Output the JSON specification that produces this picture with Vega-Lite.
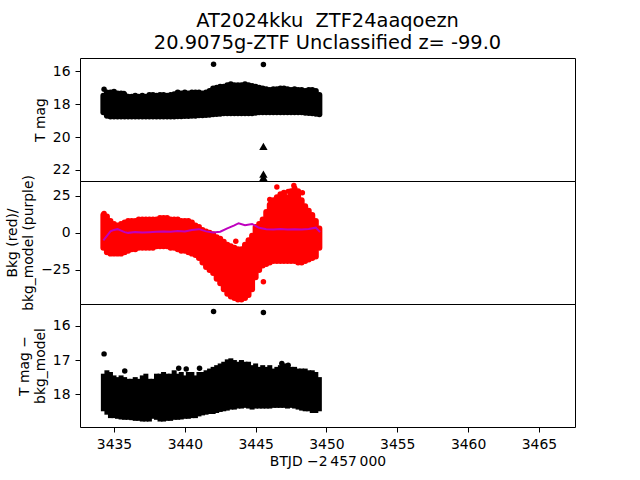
{
  "$schema": "https://vega.github.io/schema/vega-lite/v6.json",
  "padding": {"left": 5, "top": 10, "right": 5, "bottom": 5},
  "background": "white",
  "spacing": 0,
  "bounds": "flush",
  "config": {
    "font": "DejaVu Sans",
    "view": {"stroke": "black", "strokeWidth": 1},
    "axis": {"domain": false, "grid": false, "tickColor": "black", "tickSize": 5, "tickWidth": 1, "labelColor": "black", "labelFontSize": 13.9, "labelPadding": 5, "titleColor": "black", "titleFontSize": 13.9, "titleFontWeight": "normal"}
  },
  "datasets": {
    "lc": [
      {"t": 3434.25, "mag_top": 17.5, "mag_bot": 18.5, "bkg_top": 12, "bkg_bot": -10, "diff_top": 17.4, "diff_bot": 18.5},
      {"t": 3434.5, "mag_top": 17.3, "mag_bot": 18.7, "bkg_top": 11, "bkg_bot": -13, "diff_top": 17.3, "diff_bot": 18.6},
      {"t": 3434.75, "mag_top": 17.3, "mag_bot": 18.75, "bkg_top": 8, "bkg_bot": -14, "diff_top": 17.35, "diff_bot": 18.7},
      {"t": 3435.0, "mag_top": 17.25, "mag_bot": 18.75, "bkg_top": 6, "bkg_bot": -14, "diff_top": 17.45, "diff_bot": 18.7},
      {"t": 3435.25, "mag_top": 17.35, "mag_bot": 18.75, "bkg_top": 5, "bkg_bot": -14, "diff_top": 17.5, "diff_bot": 18.72},
      {"t": 3435.5, "mag_top": 17.35, "mag_bot": 18.75, "bkg_top": 6, "bkg_bot": -14, "diff_top": 17.45, "diff_bot": 18.74},
      {"t": 3435.75, "mag_top": 17.45, "mag_bot": 18.75, "bkg_top": 7, "bkg_bot": -13, "diff_top": 17.5, "diff_bot": 18.75},
      {"t": 3436.0, "mag_top": 17.55, "mag_bot": 18.75, "bkg_top": 8, "bkg_bot": -12, "diff_top": 17.55, "diff_bot": 18.75},
      {"t": 3436.25, "mag_top": 17.55, "mag_bot": 18.76, "bkg_top": 8, "bkg_bot": -11, "diff_top": 17.55, "diff_bot": 18.76},
      {"t": 3436.5, "mag_top": 17.5, "mag_bot": 18.76, "bkg_top": 8, "bkg_bot": -11, "diff_top": 17.5, "diff_bot": 18.78},
      {"t": 3436.75, "mag_top": 17.55, "mag_bot": 18.76, "bkg_top": 9, "bkg_bot": -10, "diff_top": 17.55, "diff_bot": 18.78},
      {"t": 3437.0, "mag_top": 17.5, "mag_bot": 18.76, "bkg_top": 9, "bkg_bot": -10, "diff_top": 17.45, "diff_bot": 18.8},
      {"t": 3437.25, "mag_top": 17.55, "mag_bot": 18.75, "bkg_top": 9, "bkg_bot": -10, "diff_top": 17.4, "diff_bot": 18.8},
      {"t": 3437.5, "mag_top": 17.45, "mag_bot": 18.75, "bkg_top": 9, "bkg_bot": -10, "diff_top": 17.55, "diff_bot": 18.8},
      {"t": 3437.75, "mag_top": 17.45, "mag_bot": 18.75, "bkg_top": 9, "bkg_bot": -10, "diff_top": 17.55, "diff_bot": 18.72},
      {"t": 3438.0, "mag_top": 17.5, "mag_bot": 18.76, "bkg_top": 9, "bkg_bot": -9, "diff_top": 17.4, "diff_bot": 18.75},
      {"t": 3438.25, "mag_top": 17.45, "mag_bot": 18.76, "bkg_top": 10, "bkg_bot": -9, "diff_top": 17.4, "diff_bot": 18.8},
      {"t": 3438.5, "mag_top": 17.45, "mag_bot": 18.76, "bkg_top": 10, "bkg_bot": -9, "diff_top": 17.35, "diff_bot": 18.8},
      {"t": 3438.75, "mag_top": 17.5, "mag_bot": 18.75, "bkg_top": 10, "bkg_bot": -9, "diff_top": 17.4, "diff_bot": 18.78},
      {"t": 3439.0, "mag_top": 17.45, "mag_bot": 18.75, "bkg_top": 9, "bkg_bot": -10, "diff_top": 17.4, "diff_bot": 18.78},
      {"t": 3439.25, "mag_top": 17.4, "mag_bot": 18.75, "bkg_top": 9, "bkg_bot": -10, "diff_top": 17.3, "diff_bot": 18.75},
      {"t": 3439.5, "mag_top": 17.3, "mag_bot": 18.74, "bkg_top": 9, "bkg_bot": -11, "diff_top": 17.4, "diff_bot": 18.75},
      {"t": 3439.75, "mag_top": 17.35, "mag_bot": 18.74, "bkg_top": 8, "bkg_bot": -12, "diff_top": 17.35, "diff_bot": 18.74},
      {"t": 3440.0, "mag_top": 17.3, "mag_bot": 18.72, "bkg_top": 8, "bkg_bot": -12, "diff_top": 17.45, "diff_bot": 18.72},
      {"t": 3440.25, "mag_top": 17.35, "mag_bot": 18.72, "bkg_top": 8, "bkg_bot": -13, "diff_top": 17.35, "diff_bot": 18.72},
      {"t": 3440.5, "mag_top": 17.3, "mag_bot": 18.7, "bkg_top": 7, "bkg_bot": -14, "diff_top": 17.35, "diff_bot": 18.7},
      {"t": 3440.75, "mag_top": 17.3, "mag_bot": 18.7, "bkg_top": 5, "bkg_bot": -15, "diff_top": 17.45, "diff_bot": 18.7},
      {"t": 3441.0, "mag_top": 17.3, "mag_bot": 18.68, "bkg_top": 4, "bkg_bot": -17, "diff_top": 17.35, "diff_bot": 18.65},
      {"t": 3441.25, "mag_top": 17.35, "mag_bot": 18.68, "bkg_top": 2, "bkg_bot": -20, "diff_top": 17.35, "diff_bot": 18.62},
      {"t": 3441.5, "mag_top": 17.3, "mag_bot": 18.66, "bkg_top": 1, "bkg_bot": -23, "diff_top": 17.3, "diff_bot": 18.6},
      {"t": 3441.75, "mag_top": 17.2, "mag_bot": 18.64, "bkg_top": 0, "bkg_bot": -25, "diff_top": 17.25, "diff_bot": 18.58},
      {"t": 3442.0, "mag_top": 17.05, "mag_bot": 18.62, "bkg_top": -1, "bkg_bot": -27, "diff_top": 17.2, "diff_bot": 18.58},
      {"t": 3442.25, "mag_top": 17.0, "mag_bot": 18.6, "bkg_top": -3, "bkg_bot": -31, "diff_top": 17.15, "diff_bot": 18.55},
      {"t": 3442.5, "mag_top": 16.95, "mag_bot": 18.58, "bkg_top": -4, "bkg_bot": -34, "diff_top": 17.1, "diff_bot": 18.52},
      {"t": 3442.75, "mag_top": 16.95, "mag_bot": 18.56, "bkg_top": -6, "bkg_bot": -38, "diff_top": 17.05, "diff_bot": 18.5},
      {"t": 3443.0, "mag_top": 16.85, "mag_bot": 18.56, "bkg_top": -8, "bkg_bot": -41, "diff_top": 16.98, "diff_bot": 18.48},
      {"t": 3443.25, "mag_top": 16.8, "mag_bot": 18.55, "bkg_top": -9, "bkg_bot": -43, "diff_top": 16.95, "diff_bot": 18.45},
      {"t": 3443.5, "mag_top": 16.85, "mag_bot": 18.55, "bkg_top": -10, "bkg_bot": -44, "diff_top": 17.0, "diff_bot": 18.45},
      {"t": 3443.75, "mag_top": 16.85, "mag_bot": 18.55, "bkg_top": -11, "bkg_bot": -45, "diff_top": 17.05, "diff_bot": 18.42},
      {"t": 3444.0, "mag_top": 16.85, "mag_bot": 18.55, "bkg_top": -11, "bkg_bot": -45, "diff_top": 17.0, "diff_bot": 18.42},
      {"t": 3444.25, "mag_top": 16.8, "mag_bot": 18.55, "bkg_top": -8, "bkg_bot": -44, "diff_top": 17.05, "diff_bot": 18.4},
      {"t": 3444.5, "mag_top": 16.85, "mag_bot": 18.55, "bkg_top": -5, "bkg_bot": -42, "diff_top": 17.05, "diff_bot": 18.42},
      {"t": 3444.75, "mag_top": 16.9, "mag_bot": 18.55, "bkg_top": -2, "bkg_bot": -38, "diff_top": 17.15, "diff_bot": 18.45},
      {"t": 3445.0, "mag_top": 16.95, "mag_bot": 18.52, "bkg_top": 4, "bkg_bot": -30, "diff_top": 17.1, "diff_bot": 18.42},
      {"t": 3445.25, "mag_top": 17.0, "mag_bot": 18.5, "bkg_top": 6, "bkg_bot": -25, "diff_top": 17.2, "diff_bot": 18.42},
      {"t": 3445.5, "mag_top": 17.05, "mag_bot": 18.5, "bkg_top": 9, "bkg_bot": -22, "diff_top": 17.15, "diff_bot": 18.42},
      {"t": 3445.75, "mag_top": 17.1, "mag_bot": 18.5, "bkg_top": 14, "bkg_bot": -21, "diff_top": 17.2, "diff_bot": 18.42},
      {"t": 3446.0, "mag_top": 17.15, "mag_bot": 18.5, "bkg_top": 19, "bkg_bot": -20, "diff_top": 17.15, "diff_bot": 18.42},
      {"t": 3446.25, "mag_top": 17.1, "mag_bot": 18.5, "bkg_top": 22, "bkg_bot": -19, "diff_top": 17.25, "diff_bot": 18.4},
      {"t": 3446.5, "mag_top": 17.1, "mag_bot": 18.5, "bkg_top": 24, "bkg_bot": -19, "diff_top": 17.2, "diff_bot": 18.4},
      {"t": 3446.75, "mag_top": 17.05, "mag_bot": 18.5, "bkg_top": 26, "bkg_bot": -19, "diff_top": 17.15, "diff_bot": 18.4},
      {"t": 3447.0, "mag_top": 17.05, "mag_bot": 18.5, "bkg_top": 27, "bkg_bot": -19, "diff_top": 17.1, "diff_bot": 18.4},
      {"t": 3447.25, "mag_top": 17.1, "mag_bot": 18.5, "bkg_top": 24, "bkg_bot": -19, "diff_top": 17.15, "diff_bot": 18.42},
      {"t": 3447.5, "mag_top": 17.15, "mag_bot": 18.5, "bkg_top": 28, "bkg_bot": -19, "diff_top": 17.2, "diff_bot": 18.4},
      {"t": 3447.75, "mag_top": 17.1, "mag_bot": 18.5, "bkg_top": 30, "bkg_bot": -19, "diff_top": 17.2, "diff_bot": 18.42},
      {"t": 3448.0, "mag_top": 17.15, "mag_bot": 18.5, "bkg_top": 28, "bkg_bot": -20, "diff_top": 17.25, "diff_bot": 18.45},
      {"t": 3448.25, "mag_top": 17.15, "mag_bot": 18.5, "bkg_top": 22, "bkg_bot": -20, "diff_top": 17.25, "diff_bot": 18.48},
      {"t": 3448.5, "mag_top": 17.2, "mag_bot": 18.52, "bkg_top": 18, "bkg_bot": -19, "diff_top": 17.25, "diff_bot": 18.5},
      {"t": 3448.75, "mag_top": 17.15, "mag_bot": 18.54, "bkg_top": 15, "bkg_bot": -18, "diff_top": 17.3, "diff_bot": 18.5},
      {"t": 3449.0, "mag_top": 17.15, "mag_bot": 18.56, "bkg_top": 12, "bkg_bot": -17, "diff_top": 17.3, "diff_bot": 18.55},
      {"t": 3449.25, "mag_top": 17.2, "mag_bot": 18.58, "bkg_top": 8, "bkg_bot": -16, "diff_top": 17.35, "diff_bot": 18.55},
      {"t": 3449.5, "mag_top": 17.45, "mag_bot": 18.62, "bkg_top": 3, "bkg_bot": -10, "diff_top": 17.5, "diff_bot": 18.5}
    ],
    "model": [
      {"t": 3434.25, "bkg_model": -5}, {"t": 3434.5, "bkg_model": -2}, {"t": 3434.75, "bkg_model": 1},
      {"t": 3435.0, "bkg_model": 2}, {"t": 3435.25, "bkg_model": 2.5}, {"t": 3435.5, "bkg_model": 1.5},
      {"t": 3435.75, "bkg_model": 0.5}, {"t": 3436.0, "bkg_model": 0}, {"t": 3436.5, "bkg_model": 0.5},
      {"t": 3437.0, "bkg_model": 0.3}, {"t": 3437.5, "bkg_model": 0.5}, {"t": 3438.0, "bkg_model": 0.8},
      {"t": 3438.5, "bkg_model": 1}, {"t": 3439.0, "bkg_model": 0.8}, {"t": 3439.5, "bkg_model": 1.2},
      {"t": 3440.0, "bkg_model": 1}, {"t": 3440.5, "bkg_model": 2}, {"t": 3441.0, "bkg_model": 2.5},
      {"t": 3441.5, "bkg_model": 1}, {"t": 3442.0, "bkg_model": 0.3}, {"t": 3442.5, "bkg_model": 0.8},
      {"t": 3443.0, "bkg_model": 3}, {"t": 3443.5, "bkg_model": 5}, {"t": 3443.8, "bkg_model": 6.5},
      {"t": 3444.25, "bkg_model": 5.2}, {"t": 3444.75, "bkg_model": 6}, {"t": 3445.25, "bkg_model": 3.4},
      {"t": 3445.75, "bkg_model": 2.5}, {"t": 3446.25, "bkg_model": 2.2}, {"t": 3446.75, "bkg_model": 2.6},
      {"t": 3447.25, "bkg_model": 2.2}, {"t": 3447.75, "bkg_model": 2.5}, {"t": 3448.25, "bkg_model": 2.2},
      {"t": 3448.75, "bkg_model": 2.6}, {"t": 3449.25, "bkg_model": 3.5}, {"t": 3449.55, "bkg_model": 0.5}
    ],
    "top_pts": [
      {"t": 3434.3, "mag": 17.1, "kind": "detection"},
      {"t": 3435.7, "mag": 17.35, "kind": "detection"},
      {"t": 3442.03, "mag": 15.58, "kind": "detection"},
      {"t": 3445.55, "mag": 15.6, "kind": "detection"},
      {"t": 3445.55, "mag": 20.57, "kind": "limit"},
      {"t": 3445.55, "mag": 22.25, "kind": "limit"},
      {"t": 3445.55, "mag": 22.45, "kind": "limit"}
    ],
    "bkg_pts": [
      {"t": 3446.5, "bkg": 31}, {"t": 3447.7, "bkg": 32}, {"t": 3447.3, "bkg": 28},
      {"t": 3446.0, "bkg": 22.5}, {"t": 3445.55, "bkg": -33}, {"t": 3443.6, "bkg": -5.6},
      {"t": 3448.3, "bkg": 27}, {"t": 3434.3, "bkg": 13}
    ],
    "diff_pts": [
      {"t": 3434.3, "diff": 16.82}, {"t": 3435.76, "diff": 17.32}, {"t": 3439.57, "diff": 17.24},
      {"t": 3440.1, "diff": 17.26}, {"t": 3441.04, "diff": 17.24}, {"t": 3442.03, "diff": 15.58},
      {"t": 3445.55, "diff": 15.61}, {"t": 3446.85, "diff": 17.1}, {"t": 3447.3, "diff": 17.15}
    ]
  },
  "vconcat": [
    {
      "width": 495, "height": 123,
      "title": {"text": ["AT2024kku\u00a0\u00a0ZTF24aaqoezn", "20.9075g-ZTF Unclassified z= -99.0"], "fontSize": 19.4, "fontWeight": "normal", "color": "black", "frame": "group", "anchor": "middle", "offset": 5, "lineHeight": 22},
      "layer": [
        {
          "data": {"name": "lc"},
          "mark": {"type": "rule", "color": "black", "strokeWidth": 6, "strokeCap": "round"},
          "encoding": {
            "x": {"field": "t", "type": "quantitative", "scale": {"domain": [3432.6, 3467.55], "nice": false, "zero": false}, "axis": null},
            "y": {"field": "mag_top", "type": "quantitative", "scale": {"domain": [15.2, 22.67], "reverse": true, "nice": false, "zero": false}, "axis": {"title": "T mag", "values": [16, 18, 20, 22], "titlePadding": 5}},
            "y2": {"field": "mag_bot"}
          }
        },
        {
          "data": {"name": "top_pts"},
          "mark": {"type": "point", "filled": true, "color": "black", "opacity": 1, "clip": true},
          "encoding": {
            "x": {"field": "t", "type": "quantitative"},
            "y": {"field": "mag", "type": "quantitative"},
            "shape": {"field": "kind", "type": "nominal", "scale": {"domain": ["detection", "limit"], "range": ["circle", "triangle-up"]}, "legend": null},
            "size": {"field": "kind", "type": "nominal", "scale": {"domain": ["detection", "limit"], "range": [30, 70]}, "legend": null}
          }
        },
        {
          "mark": {"type": "rule", "color": "red", "strokeWidth": 2, "strokeDash": [7, 3]},
          "encoding": {"x": {"datum": 3465.95}}
        },
        {
          "mark": {"type": "text", "align": "left", "baseline": "alphabetic", "fontSize": 16, "color": "black"},
          "encoding": {"x": {"datum": 3434.37}, "y": {"datum": 16.0}, "text": {"value": "s78 cam3ccd1"}}
        }
      ]
    },
    {
      "width": 495, "height": 123,
      "layer": [
        {
          "data": {"name": "lc"},
          "mark": {"type": "rule", "color": "red", "strokeWidth": 6, "strokeCap": "round"},
          "encoding": {
            "x": {"field": "t", "type": "quantitative", "scale": {"domain": [3432.6, 3467.55], "nice": false, "zero": false}, "axis": null},
            "y": {"field": "bkg_top", "type": "quantitative", "scale": {"domain": [-48, 35], "nice": false, "zero": false}, "axis": {"title": ["Bkg (red)/", "bkg_model (purple)"], "values": [-25, 0, 25], "titlePadding": 5}},
            "y2": {"field": "bkg_bot"}
          }
        },
        {
          "data": {"name": "bkg_pts"},
          "mark": {"type": "circle", "color": "red", "size": 30, "opacity": 1},
          "encoding": {
            "x": {"field": "t", "type": "quantitative"},
            "y": {"field": "bkg", "type": "quantitative"}
          }
        },
        {
          "data": {"name": "model"},
          "mark": {"type": "line", "color": "#bf00bf", "strokeWidth": 2},
          "encoding": {
            "x": {"field": "t", "type": "quantitative"},
            "y": {"field": "bkg_model", "type": "quantitative"}
          }
        }
      ]
    },
    {
      "width": 495, "height": 123,
      "layer": [
        {
          "data": {"name": "lc"},
          "mark": {"type": "rule", "color": "black", "strokeWidth": 5},
          "encoding": {
            "x": {"field": "t", "type": "quantitative", "scale": {"domain": [3432.6, 3467.55], "nice": false, "zero": false}, "axis": {"title": "BTJD \u22122\u2009457\u2009000", "values": [3435, 3440, 3445, 3450, 3455, 3460, 3465], "format": "d", "titlePadding": 4}},
            "y": {"field": "diff_top", "type": "quantitative", "scale": {"domain": [15.36, 18.96], "reverse": true, "nice": false, "zero": false}, "axis": {"title": ["T mag \u2212", "bkg_model"], "values": [16, 17, 18], "titlePadding": 5}},
            "y2": {"field": "diff_bot"}
          }
        },
        {
          "data": {"name": "diff_pts"},
          "mark": {"type": "circle", "color": "black", "size": 30, "opacity": 1},
          "encoding": {
            "x": {"field": "t", "type": "quantitative"},
            "y": {"field": "diff", "type": "quantitative"}
          }
        }
      ]
    }
  ]
}
